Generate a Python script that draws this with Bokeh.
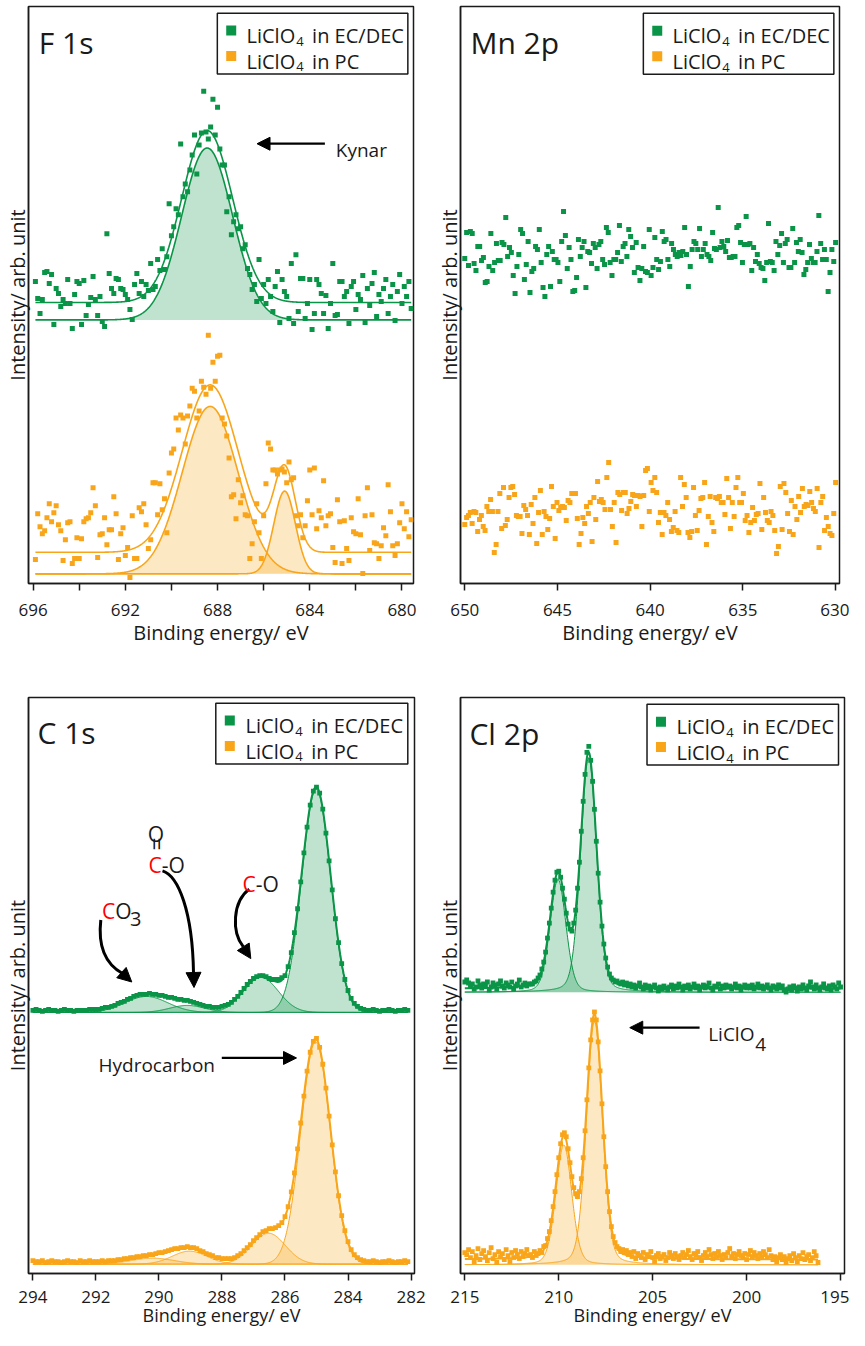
import numpy as np
from bokeh.plotting import figure
from bokeh.models import Range1d, FixedTicker, Label, Arrow, NormalHead
from bokeh.layouts import column, row
from bokeh.embed import file_html
from bokeh.resources import INLINE

GREEN = "#0a9447"
ORANGE = "#f9a51a"
INK = "#1a1a1a"
FONT = "Open Sans"
SERIES_NAMES = ["EC/DEC", "PC"]
Y_TITLE = "Intensity/ arb. unit"
X_TITLE = "Binding energy/ eV"

# ---------------- F 1s ----------------
F1S_E_START, F1S_E_STEP = 695.9, 0.1
F1S_GREEN = [303, 286, 271, 285, 312, 313, 301, 310, 260, 296,
             291, 278, 285, 281, 305, 281, 256, 290, 303, 301,
             260, 304, 269, 280, 287, 308, 285, 269, 288, 263,
             258, 351, 311, 296, 291, 306, 305, 296, 295, 290,
             285, 275, 265, 300, 311, 291, 303, 288, 300, 294,
             321, 295, 298, 325, 314, 336, 315, 328, 381, 349,
             358, 376, 370, 441, 388, 401, 393, 415, 430, 450,
             411, 440, 452, 494, 453, 446, 458, 486, 450, 478,
             436, 420, 420, 373, 388, 350, 363, 370, 356, 358,
             336, 340, 316, 310, 295, 300, 283, 325, 286, 300,
             281, 305, 288, 273, 298, 313, 262, 305, 293, 288,
             266, 321, 261, 330, 273, 306, 306, 266, 281, 305,
             255, 271, 305, 300, 291, 271, 289, 256, 281, 321,
             269, 270, 303, 303, 288, 293, 261, 298, 303, 275,
             290, 285, 309, 262, 296, 279, 301, 312, 268, 290,
             283, 296, 305, 271, 288, 300, 264, 293, 310, 281, 298, 288, 303, 276]
F1S_ORANGE = [24, 70, 57, 50, 53, 66, 80, 62, 71, 78,
              59, 53, 23, 44, 61, 62, 20, 25, 46, 25,
              45, 62, 65, 66, 71, 96, 78, 26, 49, 50,
              66, 39, 54, 54, 87, 70, 24, 50, 56, 28,
              36, 6, 68, 25, 25, 76, 72, 80, 59, 35,
              44, 101, 101, 69, 100, 74, 85, 51, 111, 131,
              135, 166, 154, 169, 166, 140, 168, 178, 196, 193,
              166, 173, 203, 197, 190, 249, 196, 222, 203, 228,
              229, 166, 160, 148, 126, 87, 89, 65, 104, 81,
              88, 69, 68, 25, 40, 62, 80, 51, 25, 68,
              100, 141, 135, 114, 114, 110, 114, 115, 112, 101,
              122, 104, 106, 68, 58, 69, 46, 58, 83, 114,
              69, 116, 55, 73, 66, 103, 58, 68, 70, 36,
              21, 84, 62, 20, 63, 35, 23, 66, 52, 50,
              85, 49, 10, 68, 96, 33, 69, 41, 40, 25,
              38, 56, 48, 99, 72, 38, 28, 40, 61, 80, 55, 72, 47, 64]
# fit components: (centre eV, height, fwhm eV, lorentzian fraction)
F1S_GREEN_PEAKS = [(688.45, 172.5, 2.6, 0.0)]
F1S_ORANGE_PEAKS = [(688.32, 168.0, 2.85, 0.0), (685.09, 83.0, 1.1, 0.0)]
F1S_GREEN_BASE, F1S_GREEN_BG = 264.5, 282.0
F1S_ORANGE_BASE, F1S_ORANGE_BG = 9.7, 31.3
F1S_TICKS = [696, 694, 692, 690, 688, 686, 684, 682, 680]
F1S_BLANK = [694, 690, 686, 682]

# ---------------- Mn 2p ----------------
MN_E_FIRST, MN_E_LAST = 650.0, 630.0
MN_GREEN = [325, 351, 318, 352, 350, 320, 313, 337, 337, 323, 326, 301, 302, 317, 350, 313, 321, 340, 323, 323,
            341, 339, 366, 327, 336, 331, 308, 290, 317, 329, 354, 350, 304, 319, 342, 291, 312, 315, 337, 334,
            354, 321, 296, 287, 329, 337, 297, 332, 324, 324, 321, 302, 342, 372, 348, 315, 336, 324, 292, 293,
            306, 344, 327, 336, 342, 296, 332, 331, 320, 340, 336, 315, 339, 342, 324, 319, 356, 351, 321, 308,
            324, 324, 331, 358, 322, 337, 340, 327, 354, 347, 336, 311, 341, 316, 303, 315, 337, 312, 311, 354,
            308, 316, 346, 324, 314, 322, 352, 342, 344, 324, 317, 340, 334, 329, 327, 331, 328, 332, 356, 329,
            297, 317, 334, 342, 340, 334, 355, 327, 334, 340, 329, 327, 323, 351, 335, 334, 376, 336, 342, 337,
            332, 343, 326, 326, 327, 327, 356, 358, 341, 321, 339, 367, 339, 340, 313, 336, 322, 329, 320, 316,
            315, 303, 321, 360, 322, 321, 313, 342, 329, 338, 350, 321, 340, 344, 316, 316, 355, 321, 341, 332,
            344, 331, 309, 314, 321, 339, 325, 321, 321, 332, 368, 340, 324, 334, 324, 292, 311, 334, 322, 341]
MN_ORANGE = [59, 66, 68, 71, 60, 72, 71, 52, 64, 68, 57, 53, 77, 72, 84, 72, 31, 39, 72, 90,
             55, 96, 58, 64, 86, 96, 97, 89, 68, 67, 67, 50, 78, 74, 68, 49, 79, 60, 86, 40,
             71, 93, 49, 72, 67, 54, 65, 97, 77, 45, 81, 73, 76, 77, 76, 63, 83, 81, 90, 90,
             90, 65, 39, 50, 66, 60, 77, 70, 81, 42, 86, 64, 102, 82, 84, 81, 74, 106, 121, 74,
             57, 81, 41, 91, 89, 73, 91, 91, 70, 75, 82, 89, 88, 77, 88, 87, 57, 88, 113, 115,
             72, 101, 93, 106, 91, 61, 71, 49, 71, 68, 81, 64, 52, 56, 72, 53, 51, 106, 77, 99,
             86, 51, 46, 52, 96, 68, 53, 73, 85, 86, 101, 39, 67, 87, 61, 52, 86, 85, 87, 81,
             81, 69, 105, 86, 55, 81, 67, 96, 106, 81, 81, 90, 63, 68, 51, 61, 76, 63, 69, 70,
             100, 54, 86, 71, 63, 61, 72, 68, 53, 30, 37, 97, 54, 100, 91, 70, 52, 83, 49, 77,
             64, 87, 71, 95, 77, 79, 78, 92, 81, 75, 72, 95, 36, 81, 87, 53, 66, 57, 50, 48, 70, 101]
MN_TICKS = [650, 645, 640, 635, 630]

# ---------------- C 1s ----------------
C1S_E_START, C1S_E_STEP = 294.0, 0.1
C1S_GREEN = [264, 265, 264, 263, 264, 265, 264, 264, 263, 264, 265, 264, 264, 263, 264,
             264, 264, 264, 265, 265, 265, 265, 266, 267, 267,
             268, 269, 271, 272, 273, 275, 276, 278, 279, 280,
             280, 280, 281, 280, 280, 279, 279, 278, 277, 277,
             276, 275, 275, 274, 274, 273, 272, 271, 270, 269,
             268, 268, 267, 267, 267, 268, 269, 270, 272, 275,
             278, 282, 286, 290, 293, 296, 298, 299, 299, 298,
             296, 295, 295, 295, 297, 299, 308, 322, 342, 366,
             393, 422, 448, 470, 484, 488, 482, 466, 442, 414,
             385, 356, 332, 311, 295, 284, 276, 271, 268, 266,
             265, 264, 264, 265, 264, 263, 264, 264, 265, 264, 263, 264, 264, 265, 264]
C1S_ORANGE = [13, 12, 12, 13, 11, 12, 13, 12, 12, 11, 12, 13, 12, 12, 11, 13, 12, 12, 13, 12,
              12, 12, 13, 12, 13, 13, 13, 14, 14, 15,
              15, 16, 16, 17, 17, 18, 18, 19, 19, 20,
              21, 21, 22, 23, 24, 25, 25, 26, 26, 27,
              26, 26, 25, 23, 22, 20, 19, 18, 16, 16,
              15, 15, 15, 15, 16, 18, 20, 23, 26, 29,
              33, 36, 39, 42, 43, 45, 45, 46, 48, 51,
              57, 67, 82, 101, 125, 151, 178, 203, 222, 233,
              236, 227, 210, 186, 158, 129, 102, 78, 58, 43,
              32, 24, 19, 16, 14, 13, 12,
              12, 13, 12, 11, 12, 12, 13, 12, 11, 12, 12, 13, 12]
C1S_GREEN_PEAKS = [(285.01, 224.0, 1.08, 0.0), (286.76, 35.0, 1.3, 0.0),
                   (289.1, 7.0, 1.3, 0.0), (290.4, 16.0, 1.6, 0.0)]
C1S_ORANGE_PEAKS = [(285.03, 223.0, 1.1, 0.0), (286.52, 31.0, 1.25, 0.0),
                    (289.03, 13.0, 1.3, 0.0), (290.2, 6.0, 1.6, 0.0)]
C1S_GREEN_BASE, C1S_GREEN_BG = 262.0, 264.0
C1S_ORANGE_BASE, C1S_ORANGE_BG = 9.4, 12.0
C1S_TICKS = [294, 292, 290, 288, 286, 284, 282]

# ---------------- Cl 2p ----------------
CL_E_START, CL_E_STEP = 215.0, 0.1
CL_GREEN = [292, 294, 291, 288, 290, 285, 287, 293, 289, 286, 290, 288, 292, 284, 287, 291, 289, 285, 290, 293,
            288, 286, 291, 289, 287, 292, 285, 288, 290, 294, 287, 289, 291, 288, 290,
            290, 290, 292, 293, 296, 299, 305, 312, 322, 336, 351, 366, 382, 394, 402, 403, 397, 386, 375, 361,
            350, 345, 343, 351, 364, 386, 412, 443, 473, 500, 522, 528, 514, 493, 465, 433, 401, 372, 348, 330,
            316, 307, 300, 296, 294, 292,
            293, 291, 290, 292, 289, 291, 288, 290, 287, 289, 286, 288, 291, 287, 285, 289, 286, 288, 284, 287,
            289, 286, 283, 287, 285, 288, 286, 284, 287, 289, 285, 288, 286, 290, 287, 284, 288, 286, 289, 285,
            287, 290, 286, 288, 284, 287, 289, 286, 288, 291, 286, 284, 288, 287, 290, 285, 288, 286, 289, 287,
            288, 285, 287, 290, 286, 288, 284, 287, 289, 286, 288, 286, 289, 285, 287, 290, 286, 288, 285, 287,
            289, 286, 284, 288, 287, 285, 289, 286, 288, 284, 282, 285, 287, 284, 288, 286, 283, 287, 285, 289,
            286, 284, 288, 292, 287, 285, 289, 286, 284, 287, 290, 286, 285, 288, 284, 289, 287, 285, 291, 287]
CL_ORANGE = [21, 19, 24, 16, 22, 12, 18, 25, 14, 20, 23, 17, 13, 21, 26, 15, 19, 11, 22, 17,
             20, 14, 24, 18, 12, 21, 16, 23, 19, 15, 22, 17, 20, 24, 18,
             19, 16, 22, 18, 20, 23, 21, 27, 28, 35, 42, 53, 67, 82, 99, 116, 130, 139, 141, 137,
             125, 111, 97, 86, 80, 77, 82, 95, 116, 143, 174, 206, 234, 254, 262, 254, 232, 203, 170, 137,
             107, 82, 62, 47, 37, 31, 27, 25, 22, 24, 21,
             23, 19, 21, 17, 22, 15, 20, 18, 16, 21, 14, 19, 17, 22, 16, 12, 18, 20, 15, 17,
             19, 13, 16, 21, 18, 15, 20, 17, 14, 18, 21, 16, 19, 23, 17, 14, 20, 18, 22, 16,
             13, 18, 21, 17, 24, 19, 15, 20, 17, 22, 18, 14, 19, 16, 21, 25, 17, 20, 15, 19,
             22, 18, 16, 20, 14, 19, 23, 17, 21, 18, 15, 20, 17, 22, 19, 16, 24, 18, 14, 17,
             12, 16, 19, 14, 17, 11, 15, 18, 13, 20, 16, 12, 18, 15, 21, 14, 17, 19, 13, 16,
             22, 18, 11]
CL_GREEN_PEAKS = [(208.41, 235.0, 1.0, 0.2), (210.04, 113.0, 1.0, 0.2)]
CL_ORANGE_PEAKS = [(208.10, 244.0, 1.0, 0.2), (209.73, 120.0, 1.0, 0.2)]
CL_GREEN_BASE, CL_GREEN_BG = 281.7, 285.3
CL_ORANGE_BASE, CL_ORANGE_BG = 8.7, 14.0
CL_TICKS = [215, 210, 205, 200, 195]


def profile(x, centre, height, fwhm, eta):
    d = (x - centre) / fwhm
    return height * ((1 - eta) * np.exp(-4 * np.log(2) * d * d) + eta / (1 + 4 * d * d))


def energies(start, step, n):
    return start - step * np.arange(n)


def make_panel(frame, xr, origin, size, ticks, blank=(), s1=13, s2=0, title_px=20):
    L, T, R, B = frame
    pl, pt = origin
    w, h = size
    p = figure(width=w, height=h, x_range=Range1d(*xr), y_range=Range1d(0, B - T),
               output_backend="svg", toolbar_location=None,
               min_border_left=L - pl, min_border_right=pl + w - R,
               min_border_top=T - pt, min_border_bottom=pt + h - B)
    p.grid.visible = False
    p.outline_line_color = INK
    p.outline_line_width = 1.5
    p.background_fill_color = "white"
    p.border_fill_color = "white"
    xa = p.xaxis[0]
    xa.ticker = FixedTicker(ticks=ticks)
    xa.major_label_overrides = {t: "" for t in blank}
    xa.major_tick_out = 7
    xa.major_tick_in = 0
    xa.minor_tick_out = 0
    xa.minor_tick_in = 0
    xa.axis_line_color = INK
    xa.axis_line_width = 1.5
    xa.major_tick_line_color = INK
    xa.major_tick_line_width = 1.5
    xa.major_label_text_font = FONT
    xa.major_label_text_font_size = "17px"
    xa.major_label_text_color = INK
    xa.major_label_standoff = s1
    xa.axis_label = X_TITLE
    xa.axis_label_text_font = FONT
    xa.axis_label_text_font_size = f"{title_px}px"
    xa.axis_label_text_font_style = "normal"
    xa.axis_label_text_color = INK
    xa.axis_label_standoff = s2
    ya = p.yaxis[0]
    ya.ticker = FixedTicker(ticks=[])
    ya.major_tick_out = 0
    ya.major_tick_in = 0
    ya.minor_tick_out = 0
    ya.minor_tick_in = 0
    ya.major_label_standoff = 0
    ya.axis_line_color = INK
    ya.axis_line_width = 1.5
    ya.axis_label = Y_TITLE
    ya.axis_label_text_font = FONT
    ya.axis_label_text_font_size = "20px"
    ya.axis_label_text_font_style = "normal"
    ya.axis_label_text_color = INK
    ya.axis_label_standoff = -2

    def m(px, py):
        return xr[0] + (px - L) * (xr[1] - xr[0]) / (R - L), B - py
    return p, m


def text(p, m, px, py, s, size, color=INK, align="left", baseline="alphabetic", angle=0.0):
    x, y = m(px, py)
    p.add_layout(Label(x=x, y=y, text=s, text_font=FONT, text_font_size=f"{size}px",
                       text_color=color, text_align=align, text_baseline=baseline, angle=angle))


def arrow(p, m, a, b, lw=2.2, head=13):
    x0, y0 = m(*a)
    x1, y1 = m(*b)
    p.add_layout(Arrow(x_start=x0, y_start=y0, x_end=x1, y_end=y1, line_width=lw, line_color="black",
                       end=NormalHead(size=head, fill_color="black", line_color="black", line_width=1)))


def curve(p, m, a, c0, c1, b, lw=3):
    pts = [m(*q) for q in (a, c0, c1, b)]
    p.bezier(x0=[pts[0][0]], y0=[pts[0][1]], cx0=[pts[1][0]], cy0=[pts[1][1]],
             cx1=[pts[2][0]], cy1=[pts[2][1]], x1=[pts[3][0]], y1=[pts[3][1]],
             line_color="black", line_width=lw)


def legend(p, m, bl, bt):
    x0, y0 = m(bl, bt)
    x1, y1 = m(bl + 192, bt + 61)
    p.quad(left=[x0], right=[x1], top=[y0], bottom=[y1], fill_color="white",
           line_color=INK, line_width=1.5)
    for k, (color, name) in enumerate(zip([GREEN, ORANGE], SERIES_NAMES)):
        dy = 25.5 * k
        mx, my = m(bl + 14, bt + 17.5 + dy)
        p.scatter([mx], [my], marker="square", size=10, fill_color=color, line_color=None)
        text(p, m, bl + 78.5, bt + 22.5 + dy, "LiClO", 20, align="right")
        text(p, m, bl + 79.5, bt + 28.5 + dy, "4", 13)
        text(p, m, bl + 95.5, bt + 22.5 + dy, "in " + name, 20)


def fit(p, lo, hi, peaks, base, bg, color, comp_lw, env_lw, alpha=0.26):
    xf = np.linspace(lo, hi, 900)
    comps = [profile(xf, *pk) for pk in peaks]
    for c in comps:
        p.varea(x=xf, y1=np.full_like(xf, base), y2=base + c, fill_color=color, fill_alpha=alpha)
    for c in comps:
        p.line(xf, base + c, line_color=color, line_width=comp_lw)
    p.line(xf, bg + np.sum(comps, axis=0), line_color=color, line_width=env_lw)


def points(p, x, y, color, size=5):
    p.scatter(x, y, marker="square", size=size, fill_color=color, line_color=None)


# ======== F 1s (top left) ========
f1, m1 = make_panel((33, 14, 421, 593), (696.2, 679.5), (8, 8), (432, 664), F1S_TICKS, F1S_BLANK)
eg = energies(F1S_E_START, F1S_E_STEP, len(F1S_GREEN))
eo = energies(F1S_E_START, F1S_E_STEP, len(F1S_ORANGE))
fit(f1, eg.min(), eg.max(), F1S_GREEN_PEAKS, F1S_GREEN_BASE, F1S_GREEN_BG, GREEN, 1.6, 1.6)
fit(f1, eo.min(), eo.max(), F1S_ORANGE_PEAKS, F1S_ORANGE_BASE, F1S_ORANGE_BG, ORANGE, 1.6, 1.6)
points(f1, eg, F1S_GREEN, GREEN)
points(f1, eo, F1S_ORANGE, ORANGE)
legend(f1, m1, 223.3, 20.7)
text(f1, m1, 43.3, 50, "F 1s", 30)
arrow(f1, m1, (331.7, 151.7), (263.3, 151.7))
text(f1, m1, 342.7, 158.3, "Kynar", 19)

# ======== Mn 2p (top right) ========
f2, m2 = make_panel((465, 14, 847, 591), (650.23, 629.79), (440, 8), (417, 664), MN_TICKS)
points(f2, np.linspace(MN_E_FIRST, MN_E_LAST, len(MN_GREEN)), MN_GREEN, GREEN)
points(f2, np.linspace(MN_E_FIRST, MN_E_LAST, len(MN_ORANGE)), MN_ORANGE, ORANGE)
legend(f2, m2, 649.3, 20.7)
text(f2, m2, 475, 50, "Mn 2p", 30)

# ======== C 1s (bottom left) ========
f3, m3 = make_panel((36, 705, 422, 1283), (294.14, 281.89), (8, 672), (432, 666), C1S_TICKS,
                    s1=10, s2=-3, title_px=18)
cg = energies(C1S_E_START, C1S_E_STEP, len(C1S_GREEN))
co = energies(C1S_E_START, C1S_E_STEP, len(C1S_ORANGE))
fit(f3, cg.min(), cg.max(), C1S_GREEN_PEAKS, C1S_GREEN_BASE, C1S_GREEN_BG, GREEN, 1.0, 2.0)
fit(f3, co.min(), co.max(), C1S_ORANGE_PEAKS, C1S_ORANGE_BASE, C1S_ORANGE_BG, ORANGE, 1.0, 2.0)
points(f3, cg, C1S_GREEN, GREEN, 4.8)
points(f3, co, C1S_ORANGE, ORANGE, 4.8)
legend(f3, m3, 223.3, 710.7)
text(f3, m3, 45, 740, "C 1s", 30)
# CO3
text(f3, m3, 122.7, 919.3, "C", 21, color="red", align="right")
text(f3, m3, 122.7, 919.3, "O", 21)
text(f3, m3, 137.5, 927.5, "3", 20)
curve(f3, m3, (108.3, 928.3), (105, 957), (114, 973), (130, 982))
arrow(f3, m3, (130, 982), (139.3, 990.5), lw=1, head=14)
# O=C-O
text(f3, m3, 163.3, 841.5, "O", 21, align="center")
text(f3, m3, 163.3, 852, "=", 23, align="center", baseline="middle", angle=np.pi / 2)
text(f3, m3, 169.3, 873, "C", 21, color="red", align="right")
text(f3, m3, 169.3, 873, "-O", 21)
curve(f3, m3, (170, 879), (186, 884), (200, 920), (201, 981))
arrow(f3, m3, (201, 981), (201.5, 996), lw=1, head=15)
# C-O
text(f3, m3, 263.3, 891.7, "C", 21, color="red", align="right")
text(f3, m3, 263.3, 891.7, "-O", 21)
curve(f3, m3, (256.7, 897.3), (240, 910), (239, 940), (250.7, 955))
arrow(f3, m3, (250.7, 955), (258.3, 967), lw=1, head=14)
# Hydrocarbon
text(f3, m3, 106, 1073.3, "Hydrocarbon", 19)
arrow(f3, m3, (229.3, 1066.7), (304, 1066.7))

# ======== Cl 2p (bottom right) ========
f4, m4 = make_panel((467, 704, 852, 1281), (215.23, 194.79), (440, 672), (417, 666), CL_TICKS,
                    s1=10, s2=-3, title_px=18)
lg = energies(CL_E_START, CL_E_STEP, len(CL_GREEN))
lo_ = energies(CL_E_START, CL_E_STEP, len(CL_ORANGE))
fit(f4, lg.min(), lg.max(), CL_GREEN_PEAKS, CL_GREEN_BASE, CL_GREEN_BG, GREEN, 1.0, 2.0)
fit(f4, lo_.min(), lo_.max(), CL_ORANGE_PEAKS, CL_ORANGE_BASE, CL_ORANGE_BG, ORANGE, 1.0, 2.0)
points(f4, lg, CL_GREEN, GREEN, 4.8)
points(f4, lo_, CL_ORANGE, ORANGE, 4.8)
legend(f4, m4, 654, 710.7)
text(f4, m4, 476, 740, "Cl 2p", 30)
arrow(f4, m4, (706.7, 1034.7), (636.7, 1034.7))
text(f4, m4, 761.7, 1041.3, "LiClO", 19, align="right")
text(f4, m4, 762.5, 1051.3, "4", 19)

layout = column(row(f1, f2), row(f3, f4))
open("out.html", "w").write(file_html(layout, INLINE, title="XPS spectra"))
